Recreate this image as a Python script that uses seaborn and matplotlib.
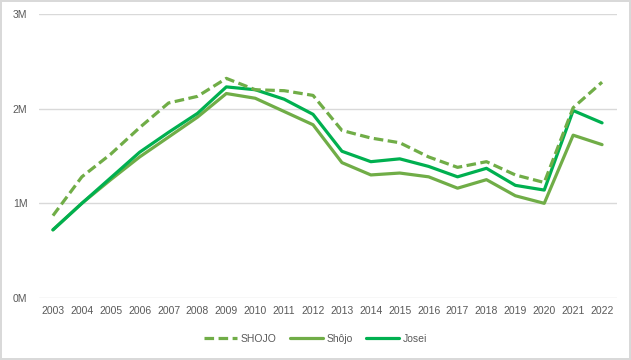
import matplotlib
matplotlib.use("Agg")
import matplotlib.pyplot as plt
import seaborn as sns
import pandas as pd
from matplotlib.lines import Line2D
from matplotlib.ticker import FuncFormatter

years = list(range(2003, 2023))
shojo_total = [0.87, 1.28, 1.52, 1.80, 2.06, 2.13, 2.32, 2.20, 2.19, 2.14, 1.77, 1.69, 1.64,
               1.49, 1.38, 1.44, 1.30, 1.22, 2.01, 2.28]
shojo = [0.72, 1.00, 1.25, 1.49, 1.70, 1.91, 2.16, 2.11, 1.97, 1.83, 1.43, 1.30, 1.32,
         1.28, 1.16, 1.25, 1.08, 1.00, 1.72, 1.62]
josei = [0.72, 1.00, 1.27, 1.54, 1.75, 1.95, 2.23, 2.20, 2.10, 1.94, 1.55, 1.44, 1.47,
         1.39, 1.28, 1.37, 1.19, 1.14, 1.98, 1.85]
series_names = ["SHOJO", "Shôjo", "Josei"]

sns.set_theme(style="white")
plt.rcParams['font.family'] = ['Liberation Sans', 'DejaVu Sans']

c1 = "#70AD47"
c2 = "#00B050"
txt = "#595959"

fig = plt.figure(figsize=(6.31, 3.6), dpi=100)
fig.patch.set_edgecolor("#D9D9D9")
fig.patch.set_linewidth(1.5)
ax = fig.add_axes([38.5/631, 1-298/360, (616.5-38.5)/631, (298-14)/360])

idx = list(range(len(years)))
df = pd.DataFrame({"x": idx * 3,
                   "v": [v * 1e6 for v in shojo_total + shojo + josei],
                   "s": [series_names[0]] * 20 + [series_names[1]] * 20 + [series_names[2]] * 20})

sns.lineplot(data=df[df.s == "Shôjo"], x="x", y="v", ax=ax, color=c1, lw=2.3, legend=False)
sns.lineplot(data=df[df.s == "Josei"], x="x", y="v", ax=ax, color=c2, lw=2.3, legend=False)
sns.lineplot(data=df[df.s == "SHOJO"], x="x", y="v", ax=ax, color=c1, lw=2.3, legend=False,
             linestyle=(0, (3, 1.4)))

ax.set_xlim(-0.5, len(years) - 0.5)
ax.set_ylim(0, 3e6)
ax.set_yticks([0, 1e6, 2e6, 3e6])
ax.yaxis.set_major_formatter(FuncFormatter(lambda v, p: f"{int(round(v/1e6))}M"))
ax.set_xticks(idx)
ax.set_xticklabels([str(y) for y in years])
ax.set_xlabel("")
ax.set_ylabel("")
ax.grid(axis="y", color="#D9D9D9", lw=1)
ax.grid(axis="x", visible=False)
for s in ax.spines.values():
    s.set_visible(False)
ax.tick_params(axis="both", length=0, labelsize=7.5, labelcolor=txt)
ax.tick_params(axis="x", pad=6)
ax.tick_params(axis="y", pad=8)

handles = [Line2D([], [], color=c1, lw=2.3, linestyle=(0, (3, 1.4))),
           Line2D([], [], color=c1, lw=2.3),
           Line2D([], [], color=c2, lw=2.3)]
fig.legend(handles, series_names, loc="center", bbox_to_anchor=(0.5, 1-339/360), ncol=3,
           frameon=False, fontsize=7.5, labelcolor=txt, handlelength=3.2, handletextpad=0.3,
           columnspacing=1.3)

fig.savefig("out.png", dpi=100, edgecolor=fig.get_edgecolor())
